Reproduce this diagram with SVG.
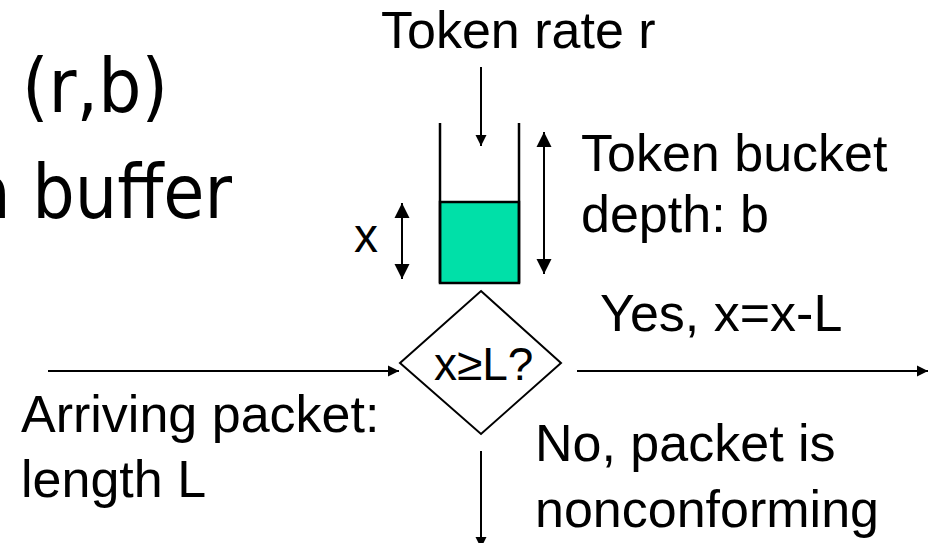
<svg xmlns="http://www.w3.org/2000/svg" width="932" height="543" viewBox="0 0 932 543">
<style>
.t{font-family:"Liberation Sans",Arial,sans-serif;fill:#000}
.big{font-family:"DejaVu Sans",Verdana,sans-serif;font-size:75px;fill:#000}
.ln{stroke:#000;stroke-width:2;fill:none}
</style>
<defs>
<marker id="hs" markerUnits="userSpaceOnUse" markerWidth="12" markerHeight="12" viewBox="0 0 12 12" refX="11" refY="6" orient="auto-start-reverse">
<path d="M0,0.5 L11,6 L0,11.5 Z" fill="#000"/>
</marker>
<marker id="hl" markerUnits="userSpaceOnUse" markerWidth="16" markerHeight="18" viewBox="0 0 16 18" refX="15" refY="9" orient="auto-start-reverse">
<path d="M0,1.5 L15,9 L0,16.5 Z" fill="#000"/>
</marker>
</defs>
<text class="big" x="22" y="112" textLength="146" lengthAdjust="spacingAndGlyphs">(r,b)</text>
<text class="big" x="-30" y="218" textLength="262" lengthAdjust="spacingAndGlyphs">a buffer</text>
<g id="bucket">
<rect x="440" y="202" width="79" height="81" fill="#00E0A8" stroke="#000" stroke-width="2.5"/>
<path d="M440,123 V283 M519,123 V283" stroke="#000" stroke-width="2.5" fill="none"/>
</g>
<g id="decision">
<polygon points="481,291 561,363 481,434 400,363" fill="#fff" stroke="#000" stroke-width="2"/>
<text class="t" x="434" y="380" font-size="46">x≥L?</text>
</g>
<g id="connectors">
<line class="ln" x1="481" y1="67" x2="481" y2="146" marker-end="url(#hs)"/>
<line class="ln" x1="544" y1="132" x2="544" y2="274" marker-start="url(#hl)" marker-end="url(#hl)"/>
<line class="ln" x1="402" y1="203" x2="402" y2="279" marker-start="url(#hl)" marker-end="url(#hl)"/>
<line class="ln" x1="48" y1="371" x2="399" y2="371" marker-end="url(#hs)"/>
<line class="ln" x1="577" y1="371" x2="928" y2="371" marker-end="url(#hs)"/>
<line class="ln" x1="481" y1="451" x2="481" y2="548" marker-end="url(#hs)"/>
</g>
<g id="labels">
<text class="t" x="381" y="48" font-size="52">Token rate r</text>
<text class="t" x="581" y="171" font-size="52">Token bucket</text>
<text class="t" x="581" y="232" font-size="52">depth: b</text>
<text class="t" x="354" y="252" font-size="48">x</text>
<text class="t" x="600" y="331" font-size="52">Yes, x=x-L</text>
<text class="t" x="21" y="432" font-size="52">Arriving packet:</text>
<text class="t" x="21" y="497" font-size="52">length L</text>
<text class="t" x="535" y="461" font-size="52">No, packet is</text>
<text class="t" x="535" y="527" font-size="52">nonconforming</text>
</g>
</svg>
